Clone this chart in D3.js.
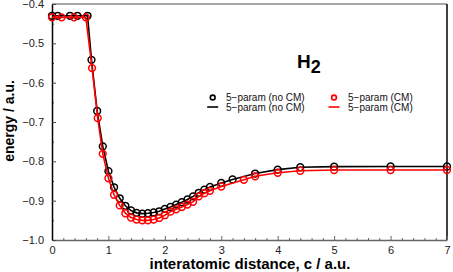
<!DOCTYPE html>
<html><head><meta charset="utf-8">
<script src="https://cdn.jsdelivr.net/npm/d3@7"></script>
<style>
html,body{margin:0;padding:0;background:#fff;}
svg{display:block;font-family:"Liberation Sans",Arial,Helvetica,sans-serif;}
</style></head>
<body><svg id="c" width="453" height="272"></svg>
<script>
// Data: 5-param fit without center-of-mass correction (black)
const xNoCM = [0, 0.1, 0.32, 0.45, 0.63, 0.7, 0.8, 0.9, 1.0, 1.1, 1.2, 1.3, 1.4, 1.5, 1.6, 1.7, 1.8, 1.9, 2.0, 2.1, 2.2, 2.3, 2.4, 2.5, 2.6, 2.7, 2.8, 3.0, 3.2, 3.6, 4.0, 4.4, 5.0, 6.0, 7.0];
const eNoCM = [-0.430, -0.430, -0.430, -0.430, -0.430, -0.542, -0.672, -0.762, -0.825, -0.866, -0.894, -0.913, -0.925, -0.931, -0.933, -0.932, -0.930, -0.927, -0.921, -0.916, -0.910, -0.904, -0.897, -0.889, -0.880, -0.872, -0.865, -0.855, -0.846, -0.831, -0.821, -0.815, -0.8135, -0.813, -0.813];
// Data: 5-param fit with CM (red)
const xCM = [0, 0.17, 0.39, 0.6, 0.71, 0.81, 0.9, 1.0, 1.1, 1.2, 1.3, 1.4, 1.5, 1.6, 1.7, 1.8, 1.9, 2.0, 2.1, 2.2, 2.3, 2.4, 2.5, 2.6, 2.7, 2.8, 3.0, 3.4, 3.6, 4.0, 4.4, 5.0, 6.0, 7.0];
const eCM = [-0.434, -0.434, -0.434, -0.434, -0.563, -0.690, -0.781, -0.843, -0.885, -0.912, -0.932, -0.943, -0.948, -0.950, -0.950, -0.948, -0.944, -0.937, -0.928, -0.922, -0.916, -0.910, -0.903, -0.889, -0.881, -0.875, -0.864, -0.847, -0.838, -0.829, -0.824, -0.822, -0.822, -0.822];
const xTicks = [0, 1, 2, 3, 4, 5, 6, 7];
const yTicks = [-1.0, -0.9, -0.8, -0.7, -0.6, -0.5, -0.4];
const legendLabels = ["5\u2212param (no CM)", "5\u2212param (CM)"];
const colors = ["#000000", "#ff0000"];

const svg = d3.select("#c");
const L = 52, R = 447, T = 4, B = 240;
const x = d3.scaleLinear().domain([0, 7]).range([L, R]);
const y = d3.scaleLinear().domain([-1.0, -0.4]).range([B, T]);

// frame top & right
svg.append("line").attr("x1", L).attr("x2", R).attr("y1", T).attr("y2", T).attr("stroke", "#888").attr("stroke-width", 1.5);
svg.append("line").attr("x1", R).attr("x2", R).attr("y1", T).attr("y2", B).attr("stroke", "#000").attr("stroke-width", 1.5);

// x minor ticks
const xMinor = d3.range(0, 7.001, 0.2).filter(v => Math.abs(v - Math.round(v)) > 1e-6);
svg.append("g").attr("transform", `translate(0,${B})`)
  .call(d3.axisBottom(x).tickValues(xMinor).tickSize(-2).tickFormat(""))
  .call(g => { g.select(".domain").remove(); g.selectAll("line").attr("stroke", "#666"); });
const gx = svg.append("g").attr("transform", `translate(0,${B})`)
  .call(d3.axisBottom(x).tickValues(xTicks).tickSize(-4).tickSizeOuter(0).tickPadding(6).tickFormat(d3.format("d")));
gx.select(".domain").attr("stroke", "#666").attr("stroke-width", 1.5);
gx.selectAll("line").attr("stroke", "#666");
gx.selectAll("text").attr("font-size", 11).attr("fill", "#222");

// y minor ticks
const yMinor = d3.range(-0.95, -0.4, 0.1);
svg.append("g").attr("transform", `translate(${L},0)`)
  .call(d3.axisLeft(y).tickValues(yMinor).tickSize(-2).tickFormat(""))
  .call(g => { g.select(".domain").remove(); g.selectAll("line").attr("stroke", "#444"); });
const gy = svg.append("g").attr("transform", `translate(${L},0)`)
  .call(d3.axisLeft(y).tickValues(yTicks).tickSize(-4).tickSizeOuter(0).tickPadding(8).tickFormat(d3.format(".1f")));
gy.select(".domain").attr("stroke", "#000").attr("stroke-width", 1.5);
gy.selectAll("line").attr("stroke", "#444");
gy.selectAll("text").attr("font-size", 11).attr("fill", "#222");

// axis titles
svg.append("text").attr("x", 250).attr("y", 269).attr("text-anchor", "middle")
  .attr("font-size", 15).attr("font-weight", "bold").text("interatomic distance, c / a.u.");
svg.append("text").attr("transform", `translate(14,121) rotate(-90)`).attr("text-anchor", "middle")
  .attr("font-size", 14).attr("font-weight", "bold").text("energy / a.u.");

// H2 label
const h = svg.append("text").attr("x", 297).attr("y", 68).attr("font-size", 19).attr("font-weight", "bold");
h.append("tspan").text("H");
h.append("tspan").attr("dy", 5).attr("font-size", 18).text("2");

// series
const line = d3.line().x(d => x(d[0])).y(d => y(d[1]));
const series = [
  { xs: xNoCM, es: eNoCM, color: colors[0] },
  { xs: xCM, es: eCM, color: colors[1] }
];
series.forEach(s => {
  const pts = s.xs.map((v, i) => [v, s.es[i]]);
  svg.append("path").datum(pts).attr("d", line).attr("fill", "none")
    .attr("stroke", s.color).attr("stroke-width", 1.6);
  svg.append("g").selectAll("circle").data(pts).join("circle")
    .attr("cx", d => x(d[0])).attr("cy", d => y(d[1])).attr("r", 3.4)
    .attr("fill", "none").attr("stroke", s.color).attr("stroke-width", 1.5);
});

// legend
const leg = [
  { cx: 212.7, tx: 226, color: colors[0], label: legendLabels[0] },
  { cx: 334, tx: 348, color: colors[1], label: legendLabels[1] }
];
leg.forEach(l => {
  svg.append("circle").attr("cx", l.cx).attr("cy", 97.5).attr("r", 2.4)
    .attr("fill", "none").attr("stroke", l.color).attr("stroke-width", 1.6);
  svg.append("text").attr("x", l.tx).attr("y", 100.8).attr("font-size", 10).attr("fill", "#111").text(l.label);
  svg.append("line").attr("x1", l.cx - 5.5).attr("x2", l.cx + 5.5).attr("y1", 107).attr("y2", 107)
    .attr("stroke", l.color).attr("stroke-width", 1.6);
  svg.append("text").attr("x", l.tx).attr("y", 110.5).attr("font-size", 10).attr("fill", "#111").text(l.label);
});
</script></body></html>
